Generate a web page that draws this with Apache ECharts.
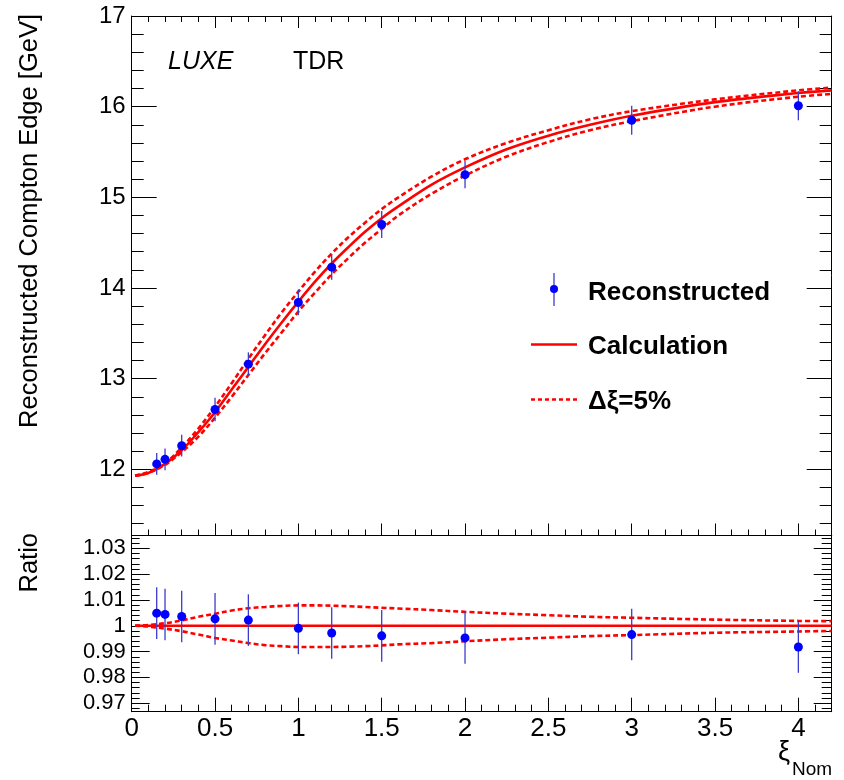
<!DOCTYPE html>
<html><head><meta charset="utf-8">
<script src="https://cdn.jsdelivr.net/npm/echarts@6/dist/echarts.min.js"></script>
<style>html,body{margin:0;padding:0;background:#fff}#c{width:844px;height:780px}</style>
</head><body><div id="c"></div>
<script>
// ---- data ----
const xPoints = [0.15, 0.2, 0.3, 0.5, 0.7, 1.0, 1.2, 1.5, 2.0, 3.0, 4.0];
const edgeReco = [12.06, 12.11, 12.26, 12.66, 13.16, 13.84, 14.23, 14.70, 15.25, 15.85, 16.01];
const edgeRecoErr = [0.12, 0.12, 0.12, 0.13, 0.13, 0.14, 0.14, 0.15, 0.15, 0.16, 0.16];
const ratioReco = [1.0049, 1.0044, 1.0036, 1.0027, 1.0022, 0.9990, 0.9972, 0.9961, 0.9953, 0.9966, 0.9918];
const ratioRecoErr = [0.01, 0.01, 0.01, 0.01, 0.01, 0.01, 0.01, 0.01, 0.01, 0.01, 0.01];

const xCurve = [0.02, 0.1, 0.2, 0.3, 0.4, 0.5, 0.6, 0.7, 0.8, 0.9, 1.0, 1.1, 1.2, 1.3, 1.4, 1.5, 1.6, 1.8, 2.0, 2.25, 2.5, 2.75, 3.0, 3.5, 4.0, 4.2];
const edgeCalc = [11.93, 11.96, 12.06, 12.21, 12.41, 12.63, 12.88, 13.13, 13.38, 13.62, 13.85, 14.07, 14.27, 14.45, 14.62, 14.77, 14.90, 15.14, 15.33, 15.53, 15.68, 15.80, 15.90, 16.05, 16.15, 16.18];
const edgeUp   = [11.93, 11.97, 12.07, 12.24, 12.45, 12.69, 12.95, 13.22, 13.48, 13.73, 13.96, 14.18, 14.38, 14.56, 14.72, 14.87, 15.00, 15.23, 15.42, 15.60, 15.74, 15.86, 15.95, 16.08, 16.18, 16.21];
const edgeDown = [11.93, 11.96, 12.05, 12.19, 12.36, 12.57, 12.80, 13.04, 13.28, 13.51, 13.74, 13.95, 14.15, 14.33, 14.50, 14.65, 14.80, 15.04, 15.24, 15.45, 15.61, 15.74, 15.84, 16.00, 16.11, 16.14];
const ratioCalc = [1, 1, 1, 1, 1, 1, 1, 1, 1, 1, 1, 1, 1, 1, 1, 1, 1, 1, 1, 1, 1, 1, 1, 1, 1, 1];
const ratioUp   = [1.0000, 1.0003, 1.0010, 1.0021, 1.0035, 1.0047, 1.0059, 1.0068, 1.0073, 1.0077, 1.0079, 1.0079, 1.0078, 1.0076, 1.0073, 1.0070, 1.0067, 1.0061, 1.0054, 1.0047, 1.0041, 1.0035, 1.0031, 1.0024, 1.0019, 1.0018];
const ratioDown = [1.0000, 0.9997, 0.9989, 0.9979, 0.9966, 0.9953, 0.9943, 0.9933, 0.9925, 0.9921, 0.9918, 0.9918, 0.9918, 0.9919, 0.9921, 0.9924, 0.9928, 0.9933, 0.9940, 0.9948, 0.9954, 0.9960, 0.9964, 0.9973, 0.9978, 0.9980];

const topTicks = [12, 13, 14, 15, 16, 17];
const ratioTicks = [0.97, 0.98, 0.99, 1, 1.01, 1.02, 1.03];
const legendNames = ['Reconstructed', 'Calculation', 'Δξ=5%'];
const yTitle = 'Reconstructed Compton Edge [GeV]';
const ratioTitle = 'Ratio';

// ---- helpers ----
const FONT = 'Liberation Sans';
const RED = '#ff0000';
const BLUE = '#0000ff';
const ERRC = '#3b3bcc';
function minorValues(lo, hi, step, major) {
  const out = [];
  const n = Math.round((hi - lo) / step);
  for (let i = 0; i <= n; i++) {
    const v = +(lo + i * step).toFixed(6);
    if (Math.abs(v / major - Math.round(v / major)) > 1e-6) out.push(v);
  }
  return out;
}
const topMinor = minorValues(11.4, 16.8, 0.2, 1);
const ratioMinor = minorValues(0.968, 1.034, 0.002, 0.01);
const pairs = (xs, ys) => xs.map((x, i) => [x, ys[i]]);
const triples = (xs, ys, es) => xs.map((x, i) => [x, ys[i], es[i]]);

const TOP_MIN = 11.27, TOP_MAX = 17;
const R_MIN = 0.9667, R_MAX = 1.035;
const axisLineStyle = { show: true, lineStyle: { color: '#000', width: 1 } };

function xAx(grid, pos, opts) {
  return Object.assign({
    type: 'value', gridIndex: grid, position: pos, min: 0, max: 4.2, interval: 0.5,
    axisLine: axisLineStyle,
    axisTick: { show: true, inside: true, length: 12, lineStyle: { color: '#000' } },
    minorTick: { show: true, splitNumber: 5, length: 6, lineStyle: { color: '#000' } },
    axisLabel: { show: false },
    splitLine: { show: false }, minorSplitLine: { show: false }
  }, opts || {});
}
function yAx(grid, pos, min, max, ticks, len, labels, line, lblSize) {
  return {
    type: 'value', gridIndex: grid, position: pos, min: min, max: max,
    axisLine: line ? axisLineStyle : { show: false },
    axisTick: { show: true, inside: true, length: len, customValues: ticks, lineStyle: { color: '#000' } },
    axisLabel: labels ? { show: true, customValues: ticks, fontFamily: FONT, fontSize: lblSize, color: '#000', margin: 6 } : { show: false },
    splitLine: { show: false }
  };
}

const chart = echarts.init(document.getElementById('c'));
const renderErr = function (params, api) {
  const x = api.value(0), y = api.value(1), e = api.value(2);
  const a = api.coord([x, y - e]);
  const b = api.coord([x, y + e]);
  return { type: 'line', shape: { x1: a[0], y1: a[1], x2: b[0], y2: b[1] }, style: { stroke: ERRC, lineWidth: 1.3 } };
};
const curve = (xi, yi, data, dashed) => ({
  type: 'line', xAxisIndex: xi, yAxisIndex: yi, data: data, showSymbol: false, smooth: 0.35,
  lineStyle: dashed ? { color: RED, width: 2.6, type: [5, 3] } : { color: RED, width: 2.6 }, z: 3
});
const dots = (xi, yi, data) => ({
  type: 'scatter', xAxisIndex: xi, yAxisIndex: yi, data: data, symbolSize: 9,
  itemStyle: { color: BLUE, opacity: 1 }, z: 5
});

chart.setOption({
  animation: false,
  backgroundColor: '#fff',
  grid: [
    { left: 131.7, right: 12.3, top: 16, height: 519.5, outerBoundsMode: 'none' },
    { left: 131.7, right: 12.3, top: 535.5, height: 176.2, outerBoundsMode: 'none' }
  ],
  xAxis: [
    xAx(0, 'bottom'),
    xAx(0, 'top'),
    xAx(1, 'bottom', {
      axisTick: { show: true, inside: true, length: 14, lineStyle: { color: '#000' } },
      minorTick: { show: true, splitNumber: 5, length: 7, lineStyle: { color: '#000' } },
      axisLabel: { show: true, fontFamily: FONT, fontSize: 26, color: '#000', margin: 4, showMaxLabel: false }
    }),
    xAx(1, 'top', { axisTick: { show: false }, minorTick: { show: false } })
  ],
  yAxis: [
    yAx(0, 'left', TOP_MIN, TOP_MAX, topTicks, 25, true, true, 24),
    yAx(0, 'left', TOP_MIN, TOP_MAX, topMinor, 12, false, false),
    yAx(0, 'right', TOP_MIN, TOP_MAX, topTicks, 25, false, true),
    yAx(0, 'right', TOP_MIN, TOP_MAX, topMinor, 12, false, false),
    yAx(1, 'left', R_MIN, R_MAX, ratioTicks, 18, true, true, 22),
    yAx(1, 'left', R_MIN, R_MAX, ratioMinor, 8, false, false),
    yAx(1, 'right', R_MIN, R_MAX, ratioTicks, 18, false, true),
    yAx(1, 'right', R_MIN, R_MAX, ratioMinor, 10, false, false)
  ],
  series: [
    Object.assign(curve(0, 0, pairs(xCurve, edgeCalc), false), { name: 'Calculation' }),
    curve(0, 0, pairs(xCurve, edgeUp), true),
    curve(0, 0, pairs(xCurve, edgeDown), true),
    { type: 'custom', xAxisIndex: 0, yAxisIndex: 0, data: triples(xPoints, edgeReco, edgeRecoErr), encode: { x: 0, y: 1 }, renderItem: renderErr, z: 4 },
    Object.assign(dots(0, 0, pairs(xPoints, edgeReco)), { name: 'Reconstructed' }),

    curve(2, 4, pairs(xCurve, ratioCalc), false),
    curve(2, 4, pairs(xCurve, ratioUp), true),
    curve(2, 4, pairs(xCurve, ratioDown), true),
    { type: 'custom', xAxisIndex: 2, yAxisIndex: 4, data: triples(xPoints, ratioReco, ratioRecoErr), encode: { x: 0, y: 1 }, renderItem: renderErr, z: 4 },
    dots(2, 4, pairs(xPoints, ratioReco))
  ],
  graphic: [
    { type: 'text', x: 168, y: 62, style: { text: 'LUXE', fontFamily: FONT, fontSize: 25, fontStyle: 'italic', fill: '#000', textAlign: 'left', textVerticalAlign: 'middle' } },
    { type: 'text', x: 293, y: 62, style: { text: 'TDR', fontFamily: FONT, fontSize: 25, fill: '#000', textAlign: 'left', textVerticalAlign: 'middle' } },
    { type: 'text', x: 30, y: 14, rotation: Math.PI / 2, style: { text: yTitle, fontFamily: FONT, fontSize: 25.5, fill: '#000', textAlign: 'right', textVerticalAlign: 'middle' } },
    { type: 'text', x: 30, y: 533, rotation: Math.PI / 2, style: { text: ratioTitle, fontFamily: FONT, fontSize: 25.5, fill: '#000', textAlign: 'right', textVerticalAlign: 'middle' } },
    { type: 'text', x: 778, y: 753, style: { text: 'ξ', fontFamily: FONT, fontSize: 27, fill: '#000', textAlign: 'left', textVerticalAlign: 'middle' } },
    { type: 'text', x: 792, y: 770, style: { text: 'Nom', fontFamily: FONT, fontSize: 19, fill: '#000', textAlign: 'left', textVerticalAlign: 'middle' } },
    // legend
    { type: 'line', shape: { x1: 554, y1: 273, x2: 554, y2: 306 }, style: { stroke: ERRC, lineWidth: 1.3 } },
    { type: 'circle', shape: { cx: 554, cy: 289, r: 4 }, style: { fill: BLUE } },
    { type: 'text', x: 588, y: 293, style: { text: legendNames[0], fontFamily: FONT, fontSize: 26, fontWeight: 'bold', fill: '#000', textAlign: 'left', textVerticalAlign: 'middle' } },
    { type: 'line', shape: { x1: 531, y1: 344.5, x2: 577, y2: 344.5 }, style: { stroke: RED, lineWidth: 2.4 } },
    { type: 'text', x: 588, y: 347, style: { text: legendNames[1], fontFamily: FONT, fontSize: 26, fontWeight: 'bold', fill: '#000', textAlign: 'left', textVerticalAlign: 'middle' } },
    { type: 'line', shape: { x1: 531, y1: 399.5, x2: 577, y2: 399.5 }, style: { stroke: RED, lineWidth: 2.4, lineDash: [4, 3] } },
    { type: 'text', x: 588, y: 402, style: { text: legendNames[2], fontFamily: FONT, fontSize: 26, fontWeight: 'bold', fill: '#000', textAlign: 'left', textVerticalAlign: 'middle' } }
  ]
});
</script></body></html>
